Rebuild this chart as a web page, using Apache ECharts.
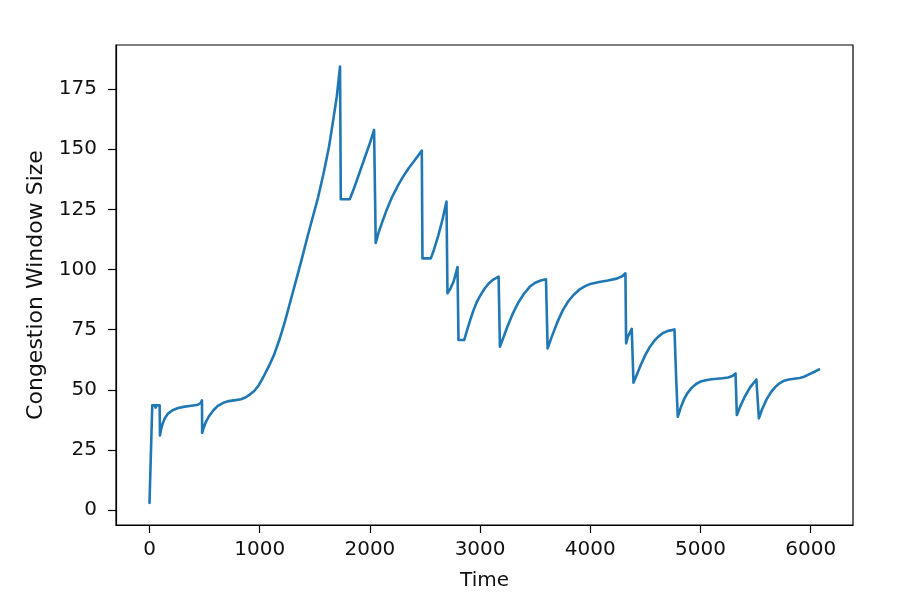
<!DOCTYPE html>
<html>
<head>
<meta charset="utf-8">
<script src="https://cdn.jsdelivr.net/npm/echarts@6/dist/echarts.min.js"></script>
<style>html,body{margin:0;padding:0;background:#fff;}#c{width:900px;height:614px;}</style>
</head>
<body>
<div id="c"></div>
<script>
var times = [0,25,50,56,62,92,95,105,120,140,170,210,260,320,380,440,465,476,478,490,510,540,580,620,670,720,780,830,870,910,950,990,1030,1080,1130,1180,1230,1280,1330,1380,1430,1480,1530,1580,1629,1660,1700,1729,1736,1817,1850,1900,1950,2000,2038,2053,2080,2110,2150,2200,2250,2300,2350,2400,2440,2471,2477,2553,2580,2620,2660,2695,2704,2730,2760,2795,2804,2856,2880,2910,2940,2970,3000,3040,3080,3120,3168,3180,3210,3250,3300,3350,3400,3450,3500,3550,3598,3613,3650,3700,3750,3800,3850,3900,3950,4000,4080,4160,4240,4290,4319,4325,4340,4352,4376,4392,4420,4460,4500,4540,4580,4620,4660,4700,4740,4764,4778,4780,4786,4794,4820,4850,4880,4920,4960,5000,5050,5100,5150,5200,5250,5290,5318,5330,5360,5400,5450,5507,5530,5560,5600,5640,5680,5720,5760,5800,5850,5900,5940,5980,6030,6076];
var cwnd = [3,43.5,43.5,42.6,43.5,43.5,31,33.5,36,38.3,40.2,41.5,42.4,43,43.4,43.8,44.5,45.6,32.1,34,36.5,39,41.5,43.3,44.6,45.3,45.7,46.1,46.8,48,49.5,51.8,55,59.5,64.5,71,78.5,87,95.5,104,113,121.5,130,140,151,160,172,184.3,129.2,129.2,133,139.5,146,152.5,158,111,115.5,119.5,124.5,130,134.5,138.5,142,145,147.5,149.4,104.6,104.6,108,114,121,128.2,90.1,92,95,101,70.7,70.7,74.5,79,83,86.5,89,92,94.3,95.8,97,67.9,71.5,76.5,82,86.5,90,92.8,94.5,95.4,95.9,67.2,72,78,83,86.8,89.5,91.6,93,94,94.8,95.4,96.2,97.2,98.4,69.3,72,71.5,75.3,52.9,56,60.5,64.5,67.8,70.3,72.2,73.6,74.4,74.8,75.1,75,54,53.5,38.8,42.5,46,48.5,50.8,52.4,53.4,54,54.4,54.6,54.8,55.1,55.7,56.8,39.5,43,47,51,54.3,38.1,42,46,49,51.2,52.8,53.8,54.3,54.6,54.9,55.4,56.3,57.4,58.5];
var xTicks = [0,1000,2000,3000,4000,5000,6000];
var yTicks = [0,25,50,75,100,125,150,175];

var data = times.map(function(t,i){return [t,cwnd[i]];});
var font = 'DejaVu Sans';
var chart = echarts.init(document.getElementById('c'), null, {renderer:'canvas'});
chart.setOption({
  animation:false,
  backgroundColor:'#fff',
  grid:{left:116,right:47,top:45,bottom:89,show:true,borderColor:'#000',borderWidth:1.2,backgroundColor:'transparent'},
  xAxis:{
    type:'value', min:-304, max:6384,
    name:'Time', nameLocation:'middle', nameGap:46,
    nameTextStyle:{fontFamily:font,fontSize:20,color:'#111'},
    axisLine:{show:true,onZero:false,lineStyle:{color:'#000',width:1.2}},
    axisTick:{show:true,customValues:xTicks,length:8,lineStyle:{color:'#000',width:1.2}},
    axisLabel:{customValues:xTicks,margin:15,fontFamily:font,fontSize:20,color:'#111',formatter:function(v){return String(v);}},
    splitLine:{show:false}
  },
  yAxis:{
    type:'value', min:-6.2, max:193.3,
    name:'Congestion Window Size', nameLocation:'middle', nameGap:69,
    nameTextStyle:{fontFamily:font,fontSize:22,color:'#111'},
    axisLine:{show:true,onZero:false,lineStyle:{color:'#000',width:1.2}},
    axisTick:{show:true,customValues:yTicks,length:8,lineStyle:{color:'#000',width:1.2}},
    axisLabel:{customValues:yTicks,margin:19,fontFamily:font,fontSize:20,color:'#111',formatter:function(v){return String(v);}},
    splitLine:{show:false}
  },
  series:[{
    type:'line', data:data, showSymbol:false, smooth:false,
    lineStyle:{color:'#1f77b4',width:2.6,join:'round',cap:'round'}
  }]
});
</script>
</body>
</html>
